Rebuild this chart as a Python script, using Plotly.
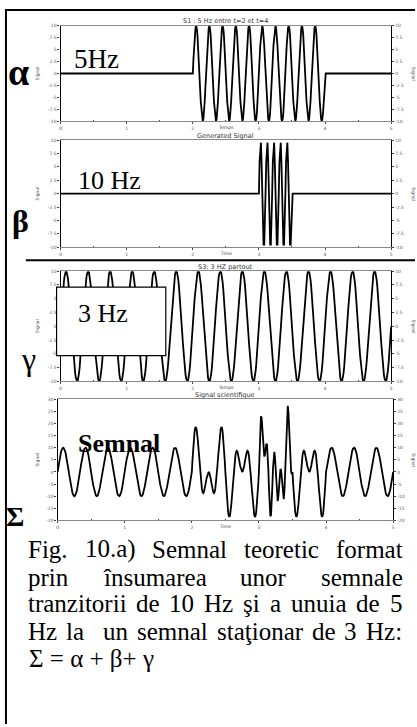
import numpy as np
import plotly.graph_objects as go

W, H = 417, 727

# Component signals: frequency, on/off window and amplitude
signal_names = ["α", "β", "γ"]
freq_hz = [5, 10, 3]
t_on = [2.0, 3.0, 0.0]
t_off = [4.0, 3.5, 5.0]
amplitude = [10.0, 10.0, 10.0]
sample_rate = 100
duration = 5.0

panel_titles = ["S1 : 5 Hz entre t=2 et t=4", "Generated Signal", "S3: 3 HZ partout", "Signal scientifique"]
x_titles = ["Temps", "Time", "Temps", "Time"]
x_ticks = [0, 1, 2, 3, 4, 5]
y_ticks_small = [10, 7.5, 5, 2.5, 0, -2.5, -5, -7.5, -10]
y_ticks_sum = [30, 25, 20, 15, 10, 5, 0, -5, -10, -15, -20]

caption_lines = [
    "Fig. 10.a) Semnal teoretic format",
    "prin însumarea unor semnale",
    "tranzitorii de 10 Hz şi a unuia de 5",
    "Hz la  un semnal staţionar de 3 Hz:",
    "Σ = α + β+ γ",
]

t = np.round(np.arange(0, duration + 1e-9, 1 / sample_rate), 4)
components = []
for f, a, b, amp in zip(freq_hz, t_on, t_off, amplitude):
    s = amp * np.sin(2 * np.pi * f * (t - a))
    s[(t < a - 1e-9) | (t > b + 1e-9)] = 0.0
    components.append(s)
total = components[0] + components[1] + components[2]
series = components + [total]

# panel boxes in pixels: left, right, top, bottom
boxes = [(60, 393, 24, 120), (60, 393, 139, 247), (60, 393, 271, 382), (57, 395, 400, 522)]
y_ranges = [[-10, 10], [-10, 10], [-10, 10], [-20, 30]]
y_tick_sets = [y_ticks_small, y_ticks_small, y_ticks_small, y_ticks_sum]


def px(x):
    return x / W


def py(y):
    return 1 - y / H


def note(x, y, text, font, xanchor="center", yanchor="middle", **kw):
    return dict(x=px(x), y=py(y), xref="paper", yref="paper", text=text, showarrow=False,
                xanchor=xanchor, yanchor=yanchor, font=font, **kw)


fig = go.Figure()
sans = "DejaVu Sans"
serif = "Liberation Serif"
tick_font = dict(family=sans, size=4.5, color="#555555")
layout = dict(
    width=W, height=H, margin=dict(l=0, r=0, t=0, b=0),
    paper_bgcolor="white", plot_bgcolor="white", showlegend=False,
)
annotations = []
shapes = []

for i, (box, yr, yt, s) in enumerate(zip(boxes, y_ranges, y_tick_sets, series)):
    n = i + 1
    xa = "x" if n == 1 else f"x{n}"
    ya = "y" if n == 1 else f"y{n}"
    yr_name = f"y{n + 4}"
    l, r, tp, bt = box
    fig.add_trace(go.Scatter(x=t, y=s, mode="lines", line=dict(color="black", width=1.8),
                             xaxis=xa, yaxis=ya, hoverinfo="skip"))
    fig.add_trace(go.Scatter(x=t, y=s, mode="lines", line=dict(color="rgba(0,0,0,0)", width=0),
                             xaxis=xa, yaxis=yr_name, hoverinfo="skip"))
    layout[f"xaxis{'' if n == 1 else n}"] = dict(
        domain=[px(l), px(r)], range=[0, 5], anchor=ya,
        tickvals=x_ticks, ticktext=[str(v) for v in x_ticks], ticks="outside", ticklen=2,
        tickcolor="#444", tickfont=tick_font, showgrid=False, zeroline=False,
        showline=True, linecolor="#888888", linewidth=1, mirror=True,
        minor=dict(tickvals=[0.5, 1.5, 2.5, 3.5, 4.5], ticks="inside", ticklen=1.5, tickcolor="#444"),
    )
    layout[f"yaxis{'' if n == 1 else n}"] = dict(
        domain=[py(bt), py(tp)], range=yr, anchor=xa,
        tickvals=yt, ticktext=[f"{v:g}" for v in yt], ticks="outside", ticklen=2,
        tickcolor="#444", tickfont=tick_font, showgrid=False, zeroline=False,
        showline=True, linecolor="black", linewidth=1.2,
    )
    layout[f"yaxis{n + 4}"] = dict(
        overlaying=ya, anchor=xa, side="right", range=yr,
        tickvals=yt, ticktext=[f"{v:g}" for v in yt], ticks="outside", ticklen=2,
        tickcolor="#444", tickfont=tick_font, showgrid=False, zeroline=False,
        showline=True, linecolor="black", linewidth=1.2,
    )
    cx = (l + r) / 2
    annotations.append(note(cx, tp - 4.5, panel_titles[i], dict(family=sans, size=6.5, color="#333333")))
    annotations.append(note(cx, bt + 6, x_titles[i], dict(family=sans, size=4.5, color="#444444")))
    annotations.append(note(37, (tp + bt) / 2, "Signal", dict(family=sans, size=4.5, color="#444444"),
                            textangle=-90))
    annotations.append(note(411, (tp + bt) / 2, "Signal", dict(family=sans, size=4.5, color="#444444"),
                            xanchor="left", textangle=90))

# Greek letters naming each component
greek = [("α", 18, 70, 38, True), ("β", 20, 221, 32, True), ("γ", 28, 359, 32, False), ("Σ", 14, 518, 28, True)]
for g, gx, gy, gs, bold in greek:
    annotations.append(note(gx, gy, f"<b>{g}</b>" if bold else g, dict(family=serif, size=gs, color="black")))

# frequency labels
big = dict(family=serif, size=26, color="black")
annotations.append(note(72, 57, "5Hz", dict(family=serif, size=27, color="black"), xanchor="left"))
annotations.append(note(76, 180, "10 Hz", big, xanchor="left"))
shapes.append(dict(type="rect", xref="paper", yref="paper", x0=px(56), x1=px(166), y0=py(356), y1=py(287),
                   fillcolor="white", line=dict(color="black", width=1.2), layer="above"))
annotations.append(note(76, 314, "3 Hz", big, xanchor="left"))
annotations.append(note(76, 445, "<b>Semnal</b>", big, xanchor="left"))

# caption: justified between the two margins, using Times-like advance widths
adv = {" ": 250, "F": 556, "i": 278, "g": 500, ".": 250, "a": 444, ")": 333, "S": 556, "e": 444,
       "m": 778, "n": 500, "l": 278, "t": 278, "o": 500, "r": 333, "c": 444, "f": 333, "p": 500,
       "î": 278, "s": 389, "u": 500, "ţ": 278, "z": 444, "d": 500, "ş": 389, "H": 722, ":": 278}
cap_size = 25
cap_font = dict(family=serif, size=cap_size, color="black")


def width(s):
    return sum(adv.get(c, 500) for c in s) / 1000 * cap_size


cap_left, cap_right = 26, 403
cap_y = [551, 579, 606, 634, 661]
for k, (line, yy) in enumerate(zip(caption_lines, cap_y)):
    if k == len(caption_lines) - 1:
        annotations.append(note(cap_left, yy, line, cap_font, xanchor="left"))
        continue
    parts = line.split(" ")
    words = [w for w in parts if w]
    gaps = []
    cnt = 0
    for w in parts[1:]:
        cnt += 1
        if w:
            gaps.append(cnt)
            cnt = 0
    natural = sum(width(w) for w in words)
    extra = (cap_right - cap_left - natural) / sum(gaps)
    x = cap_left
    for j, w in enumerate(words):
        annotations.append(note(x - 1, yy, w, cap_font, xanchor="left"))
        x += width(w)
        if j < len(gaps):
            x += extra * gaps[j]

# page frame and divider
shapes.append(dict(type="line", xref="paper", yref="paper", x0=px(4), x1=px(417), y0=py(8), y1=py(8),
                   line=dict(color="black", width=2)))
shapes.append(dict(type="line", xref="paper", yref="paper", x0=px(5), x1=px(5), y0=py(7), y1=py(727),
                   line=dict(color="black", width=2)))
shapes.append(dict(type="line", xref="paper", yref="paper", x0=px(25), x1=px(417), y0=py(260), y1=py(260),
                   line=dict(color="black", width=2)))

layout["annotations"] = annotations
layout["shapes"] = shapes
fig.update_layout(**layout)
fig.write_html("out.html")
